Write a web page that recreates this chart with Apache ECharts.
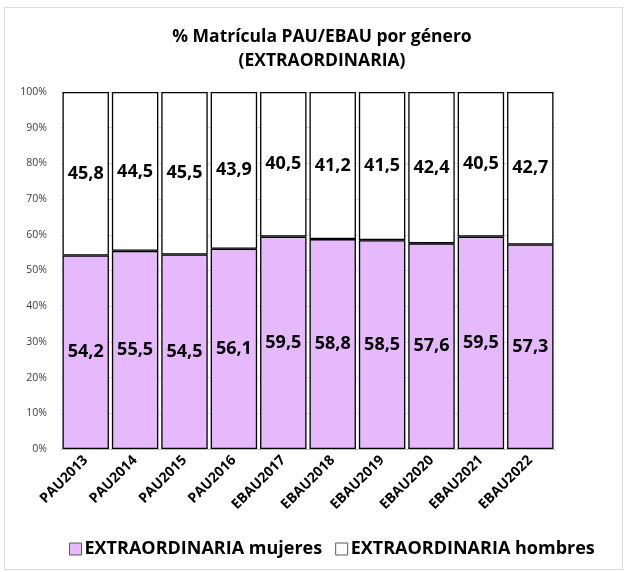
<!DOCTYPE html>
<html>
<head>
<meta charset="utf-8">
<script src="https://cdn.jsdelivr.net/npm/echarts@6/dist/echarts.min.js"></script>
<style>
  html, body { margin: 0; padding: 0; background: #fff; }
  #frame { position: absolute; left: 4px; top: 7px; width: 619px; height: 563px; border: 1px solid #d9d9d9; box-sizing: border-box; }
  #chart { position: absolute; left: 0; top: 0; width: 625px; height: 572px; }
</style>
</head>
<body>
<div id="frame"></div>
<div id="chart"></div>
<script>
var categories = ['PAU2013', 'PAU2014', 'PAU2015', 'PAU2016', 'EBAU2017', 'EBAU2018', 'EBAU2019', 'EBAU2020', 'EBAU2021', 'EBAU2022']
var mujeres = [54.2, 55.5, 54.5, 56.1, 59.5, 58.8, 58.5, 57.6, 59.5, 57.3]
var hombres = [45.8, 44.5, 45.5, 43.9, 40.5, 41.2, 41.5, 42.4, 40.5, 42.7]

var font = '"Open Sans", Lato, sans-serif'
var myChart = echarts.init(document.getElementById('chart'))

function fmt(p) {
  return p.value.toFixed(1).replace('.', ',')
}

var option = {
  animation: false,
  textStyle: { fontFamily: font },
  title: {
    text: '% Matrícula PAU/EBAU por género\n(EXTRAORDINARIA)',
    left: 317,
    textAlign: 'center',
    top: 20,
    textStyle: { fontFamily: font, fontSize: 17.5, fontWeight: 'bold', color: '#000', lineHeight: 24 }
  },
  legend: {
    bottom: 9,
    left: 64,
    itemWidth: 12,
    itemHeight: 12,
    itemGap: 13,
    icon: 'rect',
    textStyle: { fontFamily: font, fontSize: 18, fontWeight: 'bold', color: '#000', padding: [0, 0, 0, -2] },
    data: [
      { name: 'EXTRAORDINARIA mujeres', itemStyle: { borderColor: '#595959', borderWidth: 1 } },
      { name: 'EXTRAORDINARIA hombres', itemStyle: { borderColor: '#595959', borderWidth: 1 } }
    ]
  },
  grid: { left: 61, right: 70, top: 92, bottom: 123 },
  xAxis: {
    type: 'category',
    data: categories,
    axisLine: { lineStyle: { color: '#bfbfbf' } },
    axisTick: { show: false },
    axisLabel: { rotate: 45, fontFamily: font, fontSize: 14, fontWeight: 'bold', color: '#000', margin: 9, interval: 0 }
  },
  yAxis: {
    type: 'value',
    min: 0,
    max: 100,
    interval: 10,
    axisLabel: { formatter: '{value}%', fontFamily: font, fontSize: 10.5, color: '#404040', margin: 14 },
    splitLine: { lineStyle: { color: '#d9d9d9' } },
    axisLine: { show: false },
    axisTick: { show: false }
  },
  series: [
    {
      name: 'EXTRAORDINARIA mujeres',
      type: 'bar',
      stack: 'total',
      data: mujeres,
      barCategoryGap: '6%',
      itemStyle: { color: '#e5b9fc', borderColor: '#000', borderWidth: 1.3 },
      label: { show: true, position: 'inside', formatter: fmt, fontFamily: font, fontSize: 18, fontWeight: 'bold', color: '#000' }
    },
    {
      name: 'EXTRAORDINARIA hombres',
      type: 'bar',
      stack: 'total',
      data: hombres,
      barCategoryGap: '6%',
      itemStyle: { color: '#ffffff', borderColor: '#000', borderWidth: 1.3 },
      label: { show: true, position: 'inside', formatter: fmt, fontFamily: font, fontSize: 18, fontWeight: 'bold', color: '#000' }
    }
  ]
}

myChart.setOption(option, true)
</script>
</body>
</html>
